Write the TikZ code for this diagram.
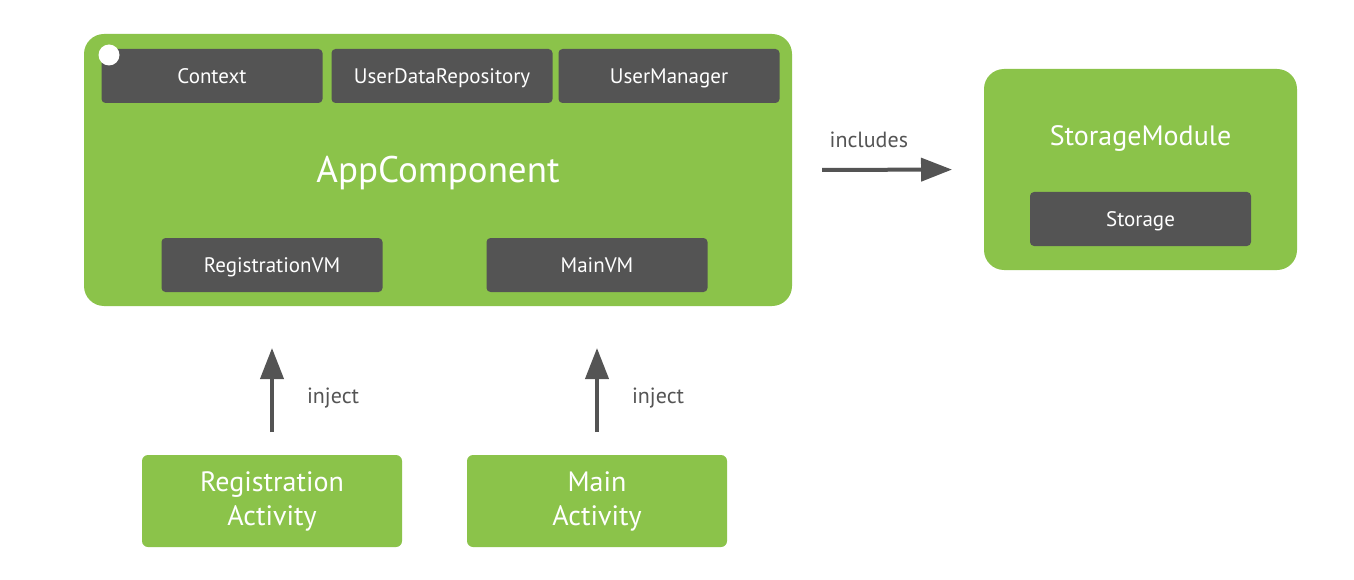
\documentclass[tikz,border=0pt]{standalone}
\usepackage{fontspec}
\setmainfont{PT Sans}
\usetikzlibrary{arrows.meta, positioning}

\begin{document}
\begin{tikzpicture}[
    x=1pt, y=-1pt,
    every node/.style={inner sep=0pt, outer sep=0pt},
    compbox/.style={
        fill=leafgreen,
        rounded corners=20pt,
        text=white,
    },
    depbox/.style={
        fill=darkslate,
        rounded corners=4pt,
        minimum width=221pt,
        minimum height=54pt,
        text=white,
        text height=15pt,
        text depth=0pt,
        font=\fontsize{21}{25}\selectfont,
    },
    actbox/.style={
        fill=leafgreen,
        rounded corners=6pt,
        minimum width=260pt,
        minimum height=92pt,
        text=white,
        align=center,
        font=\fontsize{28}{34}\selectfont,
    },
    link/.style={
        -{Triangle[length=31pt, width=23pt]},
        line width=4pt,
        draw=darkslate,
    },
    linklabel/.style={
        text=darkslate,
        font=\fontsize{22}{26}\selectfont,
    }
]

% Colors
\definecolor{leafgreen}{HTML}{8BC34A}
\definecolor{darkslate}{HTML}{545454}

% Canvas
\useasboundingbox (0,0) rectangle (1354,580);

% AppComponent and its bindings
\node[compbox, minimum width=708pt, minimum height=272pt,
      text height=26pt, text depth=0pt,
      font=\fontsize{37}{44}\selectfont] (app) at (438,170) {AppComponent};
\node[depbox] (ctx) at (212,76) {Context};
\node[depbox] (repo) at (442,76) {UserDataRepository};
\node[depbox] (usermgr) at (669,76) {UserManager};
\node[depbox] (regvm) at (272,265) {RegistrationVM};
\node[depbox] (mainvm) at (597,265) {MainVM};
\node[circle, fill=white, minimum size=21pt] (dot) at (109,55) {};

% StorageModule
\node[compbox, minimum width=313pt, minimum height=201pt] (stmod) at (1140.5,169.5) {};
\node[text=white, text height=20pt, text depth=0pt,
      font=\fontsize{28}{33}\selectfont] (sttitle)
    at ([yshift=34pt]stmod.center) {StorageModule};
\node[depbox] (storage) at (1140.5,219) {Storage};

% Activities
\node[actbox] (regact) at (272,501) {Registration\\Activity};
\node[actbox] (mainact) at (597,501) {Main\\Activity};

% Connectors
\draw[link, shorten <=30pt, shorten >=32pt] (app.east) --
    node[linklabel, pos=0.4, above=22pt] (incl) {includes} (stmod.west);
\draw[link, shorten <=23pt, shorten >=56pt] (regact.north) --
    node[linklabel, pos=0.35, right=35pt] (injreg) {inject} (regvm.south);
\draw[link, shorten <=23pt, shorten >=56pt] (mainact.north) --
    node[linklabel, pos=0.35, right=35pt] (injmain) {inject} (mainvm.south);

\end{tikzpicture}
\end{document}
